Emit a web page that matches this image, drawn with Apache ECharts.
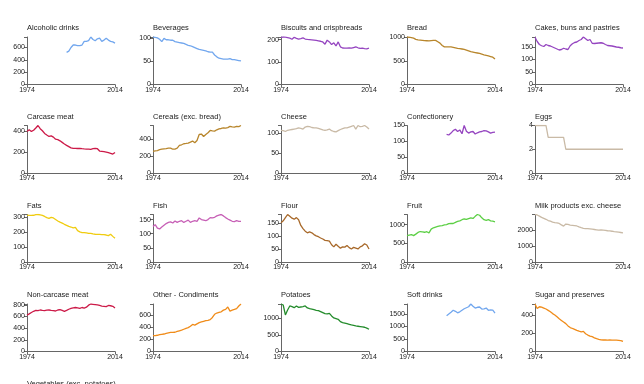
<!DOCTYPE html>
<html><head><meta charset="utf-8">
<script src="https://cdn.jsdelivr.net/npm/echarts@6/dist/echarts.min.js"></script>
<style>html,body{margin:0;padding:0;background:#fff}#c{width:644px;height:384px}</style>
</head><body><div id="c"></div>
<script>
// ---- data ----
const firstYear = 1974, lastYear = 2014;
const titles = ["Alcoholic drinks","Beverages","Biscuits and crispbreads","Bread","Cakes, buns and pastries",
  "Carcase meat","Cereals (exc. bread)","Cheese","Confectionery","Eggs",
  "Fats","Fish","Flour","Fruit","Milk products exc. cheese",
  "Non-carcase meat","Other - Condiments","Potatoes","Soft drinks","Sugar and preserves",
  "Vegetables (exc. potatoes)"];
const seriesStart = [1992,1974,1974,1974,1974, 1974,1974,1974,1992,1974, 1974,1974,1974,1974,1974, 1974,1974,1974,1992,1974];
const yTickStep = [200,50,100,500,50, 200,200,50,50,2, 100,50,50,500,1000, 200,200,500,500,200];

const alcoholicDrinks = [520,540,600,640,640,630,630,640,700,700,710,770,730,710,740,750,700,720,750,720,700,690,670];
const beverages = [103,102,101,98,93,100,97,97,96,96,93,92,91,90,89,87,85,84,82,80,78,76,75,74,73,71,70,70,64,60,57,56,55,55,55,56,54,54,53,52,51];
const biscuits = [210,212,211,209,207,202,211,206,203,205,208,203,201,200,199,198,197,195,193,190,180,198,190,178,186,172,190,168,163,162,162,163,162,165,168,164,161,162,160,159,162];
const bread = [1010,1005,995,985,960,950,945,940,932,930,928,935,940,938,910,880,830,800,800,800,798,790,780,770,765,755,745,730,715,700,690,680,670,660,645,630,620,610,595,580,540];
const cakes = [189,172,160,155,152,160,156,154,150,146,142,138,140,145,142,140,155,163,168,170,176,180,190,183,176,180,165,164,165,166,167,165,160,156,155,154,152,150,149,147,146];
const carcaseMeat = [394,410,394,405,426,450,420,400,375,360,346,352,340,320,316,305,290,275,262,250,238,234,233,232,234,230,228,227,226,224,230,234,230,208,205,202,198,192,186,179,195];
const cereals = [252,258,262,272,278,283,286,290,291,278,280,290,322,330,342,345,349,360,373,353,380,450,455,427,450,470,497,492,489,505,516,520,528,524,530,544,538,536,544,542,555];
const cheese = [107,106,104,107,108,109,110,111,113,112,110,115,117,116,114,113,113,112,110,108,107,108,110,106,104,103,106,109,111,113,113,115,117,119,110,119,116,117,119,115,110];
const confectionery = [122,120,126,134,138,131,136,124,150,132,126,130,131,123,127,130,131,134,133,130,126,128,129];
const eggs = [4,4,4,4,4,4,3,3,3,3,3,3,3,3,2,2,2,2,2,2,2,2,2,2,2,2,2,2,2,2,2,2,2,2,2,2,2,2,2,2,2];
const fats = [311,309,309,310,314,315,312,309,302,294,289,296,292,282,272,264,258,250,243,236,232,226,230,208,200,195,195,193,190,190,186,184,183,183,182,181,179,175,184,170,157];
const fish = [126,132,120,117,124,130,136,140,142,138,145,140,144,146,140,144,148,140,144,146,144,156,150,148,146,150,157,156,158,163,166,168,163,157,152,148,144,143,146,144,144];
const flour = [150,158,170,182,175,168,164,170,162,140,128,118,112,115,112,105,100,97,92,88,83,82,80,66,58,68,60,53,58,57,63,55,50,56,53,50,58,62,70,65,50];
const fruit = [703,720,735,705,745,790,815,805,795,810,780,880,915,935,950,965,975,990,1000,1025,1030,1030,1060,1085,1100,1130,1150,1140,1160,1180,1165,1220,1270,1250,1180,1130,1115,1135,1100,1090,1072];
const milkProducts = [2980,2950,2880,2800,2740,2680,2600,2560,2500,2470,2450,2420,2330,2250,2380,2360,2320,2300,2280,2260,2200,2150,2110,2090,2100,2080,2060,2040,2020,2000,2010,2000,1990,1960,1950,1930,1900,1890,1870,1850,1830];
const nonCarcaseMeat = [625,645,670,690,705,700,712,705,700,710,712,705,700,695,712,720,705,690,705,725,740,750,755,748,740,755,745,760,795,815,810,805,800,790,780,775,770,790,785,775,745];
const otherCondiments = [265,265,270,280,286,291,302,310,317,318,320,333,344,354,370,386,397,420,450,439,460,480,492,503,513,518,530,566,619,640,651,661,688,700,741,672,688,700,714,757,790];
const potatoes = [1430,1400,1100,1250,1370,1350,1320,1370,1330,1340,1350,1370,1310,1290,1275,1260,1240,1230,1200,1170,1140,1130,1150,1070,1010,990,970,900,870,855,840,820,800,785,770,760,750,740,730,705,670];
const softDrinks = [1420,1490,1560,1640,1600,1540,1580,1640,1700,1740,1780,1890,1800,1730,1760,1770,1690,1700,1730,1640,1660,1650,1530];
const sugar = [520,470,490,485,475,465,450,435,415,400,380,358,340,322,305,280,262,252,243,232,222,215,220,195,180,168,162,150,140,133,128,126,126,125,126,125,124,124,122,120,110];

const allValues = [alcoholicDrinks,beverages,biscuits,bread,cakes,carcaseMeat,cereals,cheese,confectionery,eggs,
  fats,fish,flour,fruit,milkProducts,nonCarcaseMeat,otherCondiments,potatoes,softDrinks,sugar];

// ---- styles / layout ----
const colors = ["#72a7ee","#72a7ee","#9545c0","#b8862c","#9545c0",
  "#cc1a48","#b8862c","#c9baa6","#9545c0","#c9baa6",
  "#f0cc10","#c760b6","#a8692a","#5ccf45","#c9baa6",
  "#cc1a48","#f08c1a","#248c2c","#72a7ee","#f08c1a"];
const colLeft = [27,153,281,407,535];
const rowTop = [37,125.5,214.5,304,393];
const plotW = 88, plotH = 47.5;
const font = "'Liberation Sans', Arial, sans-serif";
const axisColor = "#666";

const grids = [], xAxes = [], yAxes = [], series = [], titleList = [];
titles.forEach((t, i) => {
  const col = i % 5, row = Math.floor(i / 5);
  titleList.push({text: t, left: colLeft[col], top: rowTop[row] - 13, padding: 0,
    textStyle: {fontSize: 7.5, fontWeight: 'normal', color: '#222', fontFamily: font}});
  if (i >= allValues.length) return;
  grids.push({left: colLeft[col], top: rowTop[row], width: plotW, height: plotH, containLabel: false});
  xAxes.push({type: 'value', gridIndex: i, min: firstYear, max: lastYear, interval: lastYear - firstYear,
    axisLine: {show: true, lineStyle: {color: axisColor, width: 1}},
    axisTick: {show: true, length: 3, lineStyle: {color: axisColor}},
    splitLine: {show: false},
    axisLabel: {fontSize: 7, color: '#222', fontFamily: font, margin: 2, formatter: v => String(v)}});
  const vals = allValues[i];
  const maxV = Math.max(...vals);
  const step = yTickStep[i];
  yAxes.push({type: 'value', gridIndex: i, min: 0, max: maxV, interval: step,
    axisLine: {show: true, lineStyle: {color: axisColor, width: 1}},
    axisTick: {show: true, length: 3, lineStyle: {color: axisColor}},
    splitLine: {show: false},
    axisLabel: {fontSize: 7, color: '#222', fontFamily: font, margin: 2, showMaxLabel: true,
      formatter: v => (Math.abs(v / step - Math.round(v / step)) < 1e-9 ? String(v) : '')}});
  series.push({type: 'line', xAxisIndex: i, yAxisIndex: i, showSymbol: false, symbol: 'none', silent: true,
    lineStyle: {color: colors[i], width: 1.3}, animation: false,
    data: vals.map((v, k) => [seriesStart[i] + k, v])});
});

const chart = echarts.init(document.getElementById('c'), null, {renderer: 'canvas'});
chart.setOption({animation: false, title: titleList, grid: grids, xAxis: xAxes, yAxis: yAxes, series: series});
</script>
</body></html>
